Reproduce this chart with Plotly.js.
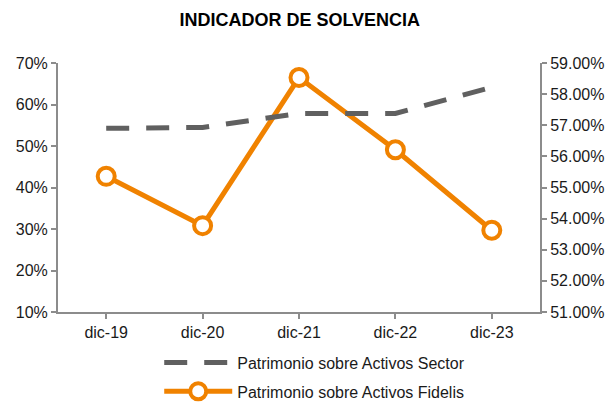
<!DOCTYPE html>
<html>
<head>
<meta charset="utf-8">
<script src="https://cdn.plot.ly/plotly-3.0.1.min.js"></script>
<style>html,body{margin:0;padding:0;background:#fff;}#chart{width:608px;height:403px;}</style>
</head>
<body>
<div id="chart"></div>
<script>
const categories = ["dic-19", "dic-20", "dic-21", "dic-22", "dic-23"];
const sectorValues = [56.9, 56.93, 57.38, 57.38, 58.22];
const fidelisValues = [42.7, 30.8, 66.5, 49.1, 29.7];
const leftTicks = [10, 20, 30, 40, 50, 60, 70];
const rightTicks = [51, 52, 53, 54, 55, 56, 57, 58, 59];

const font = "Liberation Sans, Arial, sans-serif";

const traces = [
  {
    x: categories, y: sectorValues, yaxis: "y2",
    name: "Patrimonio sobre Activos Sector",
    type: "scatter", mode: "lines",
    line: {color: "#606060", width: 5, dash: "23px,17px"},
    legendgroup: "a"
  },
  {
    x: categories, y: fidelisValues, yaxis: "y",
    name: "Patrimonio sobre Activos Fidelis",
    type: "scatter", mode: "lines+markers",
    line: {color: "#F08200", width: 5},
    marker: {symbol: "circle", size: 17, color: "#ffffff", line: {color: "#F08200", width: 4}},
    legendgroup: "b"
  }
];

const layout = {
  width: 608, height: 403,
  margin: {l: 58, r: 68, t: 63, b: 91, autoexpand: false},
  paper_bgcolor: "#ffffff", plot_bgcolor: "#ffffff",
  font: {family: font, size: 16, color: "#1a1a1a"},
  title: {text: "<b>INDICADOR DE SOLVENCIA</b>", x: 0.493, xanchor: "center", y: 0.95, yanchor: "middle",
          font: {family: font, size: 18, color: "#000000"}},
  showlegend: true,
  legend: {orientation: "v", x: 0.21, xanchor: "left", y: -0.135, yanchor: "top", itemwidth: 68,
           font: {family: font, size: 16, color: "#1a1a1a"}, tracegroupgap: 5, bgcolor: "rgba(0,0,0,0)"},
  xaxis: {
    type: "category", range: [-0.5, 4.5], showgrid: false, showline: true, linecolor: "#8c8c8c", linewidth: 2,
    ticks: "outside", ticklen: 5, tickcolor: "#8c8c8c", tickwidth: 2,
    tickfont: {family: font, size: 16, color: "#1a1a1a"}, zeroline: false
  },
  yaxis: {
    range: [10, 70], tickvals: leftTicks, ticktext: leftTicks.map(v => v + "%"),
    showgrid: false, showline: true, linecolor: "#8c8c8c", linewidth: 2,
    ticks: "outside", ticklen: 5, tickcolor: "#8c8c8c", tickwidth: 2, zeroline: false,
    tickfont: {family: font, size: 16, color: "#1a1a1a"}
  },
  yaxis2: {
    range: [51, 59], overlaying: "y", side: "right",
    tickvals: rightTicks, ticktext: rightTicks.map(v => v.toFixed(2) + "%"),
    showgrid: false, showline: true, linecolor: "#8c8c8c", linewidth: 2,
    ticks: "outside", ticklen: 5, tickcolor: "#8c8c8c", tickwidth: 2, zeroline: false,
    tickfont: {family: font, size: 16, color: "#1a1a1a"}
  }
};

Plotly.newPlot("chart", traces, layout, {displayModeBar: false, staticPlot: true});
</script>
</body>
</html>
